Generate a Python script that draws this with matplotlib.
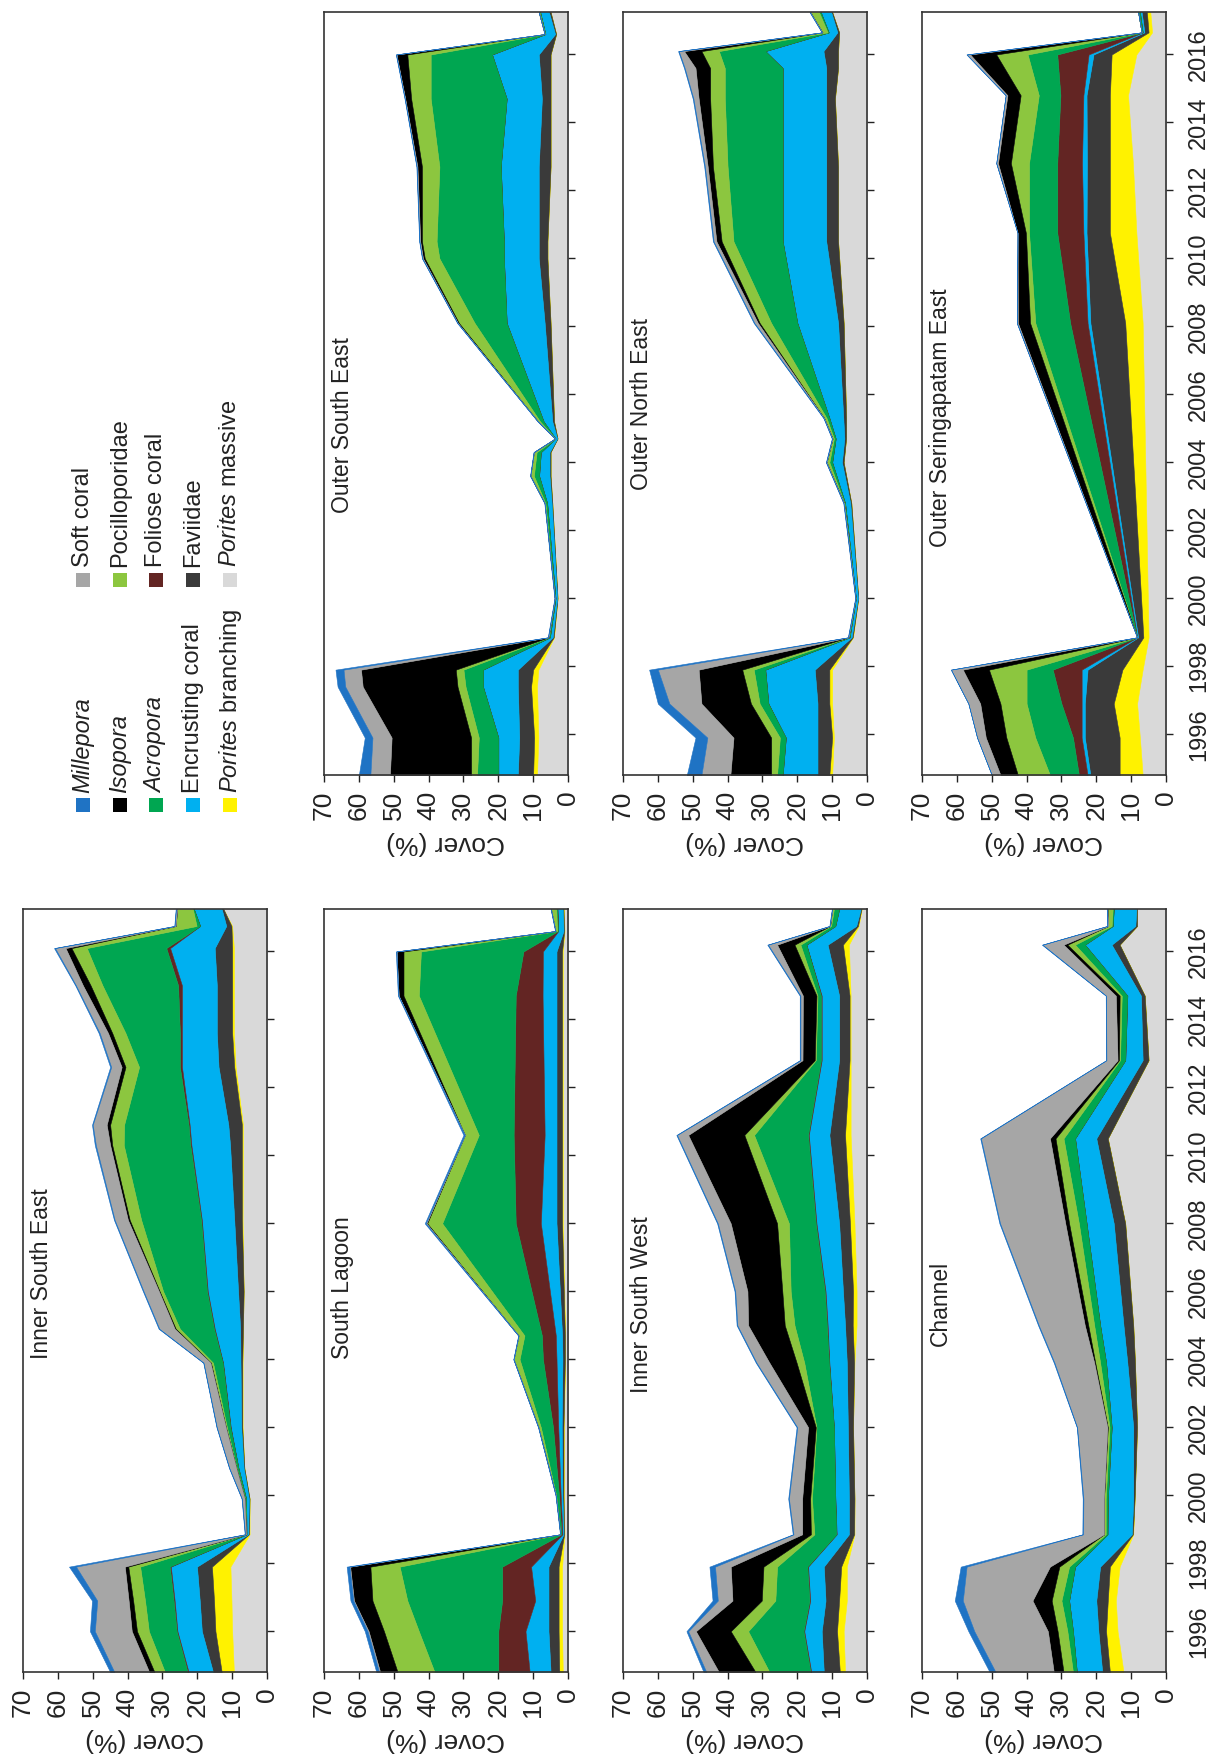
import numpy as np
import matplotlib
matplotlib.use("Agg")
import matplotlib.pyplot as plt
import matplotlib.transforms as mtransforms
from matplotlib.patches import Rectangle

plt.rcParams['font.family'] = ['Liberation Sans', 'DejaVu Sans']
plt.rcParams['mathtext.fontset'] = 'custom'
plt.rcParams['mathtext.rm'] = 'Liberation Sans'
plt.rcParams['mathtext.it'] = 'Liberation Sans:italic'

# ---------------- categories (stack order, bottom -> top) ----------------
LAYER_NAMES = ['Porites massive', 'Porites branching', 'Faviidae', 'Encrusting coral',
               'Foliose coral', 'Acropora', 'Pocilloporidae', 'Isopora', 'Soft coral', 'Millepora']
LAYER_COLORS = ['#d9d9d9', '#fff200', '#3a3a3a', '#00b0f0', '#632523',
                '#00a651', '#8cc63f', '#000000', '#a6a6a6', '#1f73c4']

YEAR_TICKS = [1996, 1998, 2000, 2002, 2004, 2006, 2008, 2010, 2012, 2014, 2016]
COVER_TICKS = [0, 10, 20, 30, 40, 50, 60, 70]

# ---------------- Inner South East ----------------
ISE_YEARS = [1994.8, 1996.0, 1996.9, 1997.9, 1998.85, 1999.9, 2000.8, 2002.0, 2003.9, 2004.9,
             2006.0, 2008.1, 2010.3, 2010.9, 2012.6, 2013.6, 2015.0, 2016.1, 2016.75, 2017.25]
ISE_PM = [9.5, 10.0, 10.2, 10.5, 5.0, 5.0, 6.5, 7.0, 7.0, 6.9, 6.7, 7.0, 6.9, 6.9, 9.0, 9.5, 9.5, 9.5, 10.0, 12.5]
ISE_PB = [3.5, 4.8, 5.0, 5.3, 0.2, 0.0, 0.0, 0.1, 0.1, 0.0, 0.0, 0.2, 0.3, 0.3, 0.4, 0.5, 0.5, 0.5, 0.2, 0.0]
ISE_FAV = [2.5, 3.9, 4.1, 4.3, 0.2, 0.2, 0.2, 0.3, 0.5, 0.8, 1.6, 2.2, 3.4, 3.9, 4.5, 4.4, 4.4, 5.0, 1.5, 0.5]
ISE_ENC = [7.0, 7.0, 7.2, 7.5, 0.5, 0.8, 1.5, 3.0, 5.0, 7.3, 8.7, 9.3, 11.1, 11.1, 10.5, 10.0, 10.0, 12.8, 7.5, 8.0]
ISE_FOL = [0.3, 0.2, 0.3, 0.3, 0.0, 0.0, 0.0, 0.1, 0.1, 0.2, 0.2, 0.2, 0.3, 0.3, 0.6, 0.6, 1.1, 1.1, 0.0, 0.0]
ISE_ACR = [6.5, 8.0, 8.2, 8.5, 0.1, 0.3, 0.5, 1.0, 2.8, 9.8, 12.6, 17.2, 19.1, 18.5, 11.7, 15.6, 21.7, 22.8, 1.0, 0.3]
ISE_POC = [3.0, 3.4, 3.4, 3.4, 0.0, 0.1, 0.1, 0.3, 0.6, 1.2, 1.0, 3.3, 3.3, 4.0, 3.9, 3.8, 3.4, 4.4, 6.0, 4.5]
ISE_ISO = [1.5, 1.5, 1.3, 1.0, 0.0, 0.0, 0.0, 0.0, 0.1, 0.3, 0.2, 0.5, 0.6, 1.0, 1.1, 1.2, 2.2, 1.7, 0.0, 0.0]
ISE_SOFT = [10.0, 10.6, 9.0, 14.0, 0.3, 0.8, 2.0, 2.6, 2.0, 4.4, 4.4, 3.8, 4.1, 4.0, 3.0, 2.4, 2.0, 3.0, 0.3, 0.3]
ISE_MIL = [1.2, 1.4, 1.5, 2.0, 0.1, 0.1, 0.1, 0.1, 0.1, 0.2, 0.2, 0.2, 0.3, 0.2, 0.3, 0.3, 0.2, 0.3, 0.1, 0.1]

# ---------------- South Lagoon ----------------
SL_YEARS = [1994.8, 1996.0, 1996.9, 1997.9, 1998.85, 2000.0, 2002.0, 2004.0, 2004.7, 2008.0,
            2010.6, 2014.7, 2016.0, 2016.6, 2017.25]
SL_PM = [1.5, 1.7, 1.7, 1.7, 1.0, 1.2, 1.2, 0.8, 0.8, 1.5, 1.5, 1.5, 1.5, 1.0, 1.2]
SL_PB = [1.0, 1.0, 1.0, 1.0, 0.1, 0.1, 0.1, 0.1, 0.1, 0.2, 0.2, 0.2, 0.2, 0.1, 0.1]
SL_FAV = [2.5, 2.9, 2.9, 2.9, 0.2, 0.3, 0.5, 0.7, 0.8, 1.6, 1.6, 1.6, 1.6, 0.2, 0.2]
SL_ENC = [6.0, 6.6, 3.8, 5.0, 0.3, 0.5, 1.0, 1.7, 1.8, 4.5, 3.4, 4.0, 3.9, 1.5, 1.5]
SL_FOL = [9.0, 7.8, 9.5, 8.3, 0.3, 0.5, 1.5, 3.9, 4.0, 7.2, 8.9, 7.7, 5.6, 0.1, 0.1]
SL_ACR = [18.3, 22.8, 27.2, 29.4, 0.3, 0.8, 3.5, 6.7, 5.0, 21.1, 10.0, 27.8, 29.4, 0.2, 0.3]
SL_POC = [10.6, 10.0, 10.0, 8.4, 0.0, 0.1, 0.7, 1.7, 1.7, 4.3, 4.0, 4.4, 5.0, 0.5, 1.5]
SL_ISO = [5.0, 4.4, 5.3, 5.8, 0.0, 0.0, 0.0, 0.0, 0.0, 0.2, 0.0, 1.4, 2.0, 0.0, 0.0]
SL_SOFT = [0.3, 0.3, 0.2, 0.2, 0.0, 0.0, 0.0, 0.0, 0.0, 0.2, 0.0, 0.0, 0.0, 0.0, 0.0]
SL_MIL = [0.8, 0.8, 0.8, 0.8, 0.1, 0.1, 0.1, 0.1, 0.1, 0.3, 0.4, 0.2, 0.2, 0.1, 0.1]

# ---------------- Inner South West ----------------
ISW_YEARS = [1994.8, 1996.0, 1996.9, 1997.9, 1998.85, 1999.9, 2002.0, 2003.9, 2005.0, 2006.0,
             2008.0, 2010.6, 2012.8, 2014.7, 2016.2, 2016.75, 2017.25]
ISW_PM = [6.3, 6.7, 5.8, 5.8, 3.6, 3.6, 4.0, 3.6, 3.0, 3.0, 3.6, 4.7, 4.7, 4.7, 5.2, 2.4, 1.5]
ISW_PB = [1.5, 1.9, 2.2, 1.6, 0.1, 0.0, 0.0, 0.1, 1.1, 1.0, 1.3, 1.6, 0.3, 0.3, 1.7, 0.2, 0.1]
ISW_FAV = [4.6, 4.4, 3.9, 5.0, 1.5, 1.6, 1.5, 2.1, 2.2, 2.9, 3.1, 4.5, 3.0, 3.0, 4.4, 0.5, 0.2]
ISW_ENC = [3.6, 5.0, 4.4, 4.5, 3.5, 3.9, 4.0, 5.0, 5.0, 5.0, 6.5, 5.9, 5.0, 5.0, 6.1, 6.0, 6.2]
ISW_FOL = [0.2, 0.2, 0.2, 0.2, 0.1, 0.0, 0.0, 0.1, 0.2, 0.2, 0.2, 0.2, 0.2, 0.2, 0.0, 0.0, 0.0]
ISW_ACR = [11.8, 15.9, 9.8, 8.7, 6.3, 6.7, 5.0, 7.1, 9.3, 9.8, 7.7, 15.5, 1.5, 1.0, 1.7, 1.2, 1.5]
ISW_POC = [4.0, 5.0, 3.9, 3.9, 1.0, 0.5, 0.2, 2.2, 2.8, 2.4, 3.4, 2.8, 0.3, 0.3, 1.7, 0.3, 0.5]
ISW_ISO = [10.5, 10.0, 8.4, 9.4, 2.5, 2.3, 2.2, 7.8, 10.5, 10.0, 13.3, 16.1, 3.5, 3.9, 5.0, 0.0, 0.0]
ISW_SOFT = [3.6, 2.2, 4.2, 4.5, 2.5, 3.8, 3.1, 3.7, 3.1, 3.5, 3.7, 3.2, 0.6, 0.7, 2.6, 0.1, 0.0]
ISW_MIL = [0.8, 0.5, 1.5, 1.6, 0.2, 0.2, 0.2, 0.2, 0.2, 0.2, 0.2, 0.2, 0.2, 0.2, 0.2, 0.1, 0.1]

# ---------------- Channel ----------------
CH_YEARS = [1994.8, 1996.0, 1996.9, 1997.9, 1998.85, 1999.9, 2002.0, 2003.9, 2005.0, 2008.0,
            2010.5, 2012.8, 2014.7, 2016.2, 2016.75, 2017.25]
CH_PM = [12.2, 13.9, 14.4, 13.3, 9.4, 9.0, 8.3, 8.9, 9.4, 11.7, 16.7, 5.0, 6.1, 13.3, 8.3, 8.3]
CH_PB = [3.9, 3.3, 2.3, 2.8, 0.1, 0.0, 0.0, 0.0, 0.0, 0.0, 0.0, 0.0, 0.0, 0.0, 0.0, 0.0]
CH_FAV = [2.2, 2.2, 3.3, 2.8, 0.3, 0.4, 1.1, 2.2, 2.8, 3.3, 3.3, 1.7, 1.1, 2.3, 0.5, 0.2]
CH_ENC = [7.3, 7.3, 7.8, 7.2, 7.0, 7.3, 6.2, 6.1, 6.7, 7.8, 6.1, 5.0, 3.9, 7.7, 6.5, 6.5]
CH_FOL = [0.0, 0.0, 0.0, 0.0, 0.0, 0.0, 0.0, 0.0, 0.0, 0.0, 0.0, 0.0, 0.0, 0.0, 0.0, 0.0]
CH_ACR = [1.1, 1.6, 2.2, 1.7, 0.5, 0.6, 0.6, 1.7, 1.7, 2.2, 3.3, 1.5, 1.6, 2.8, 0.3, 0.3]
CH_POC = [2.7, 2.8, 2.8, 2.8, 0.5, 0.5, 0.5, 1.4, 1.7, 2.8, 2.3, 0.3, 0.6, 2.2, 1.0, 1.5]
CH_ISO = [2.8, 2.8, 5.5, 2.7, 0.0, 0.0, 0.1, 0.3, 1.0, 1.1, 1.6, 0.4, 1.1, 1.1, 0.0, 0.0]
CH_SOFT = [16.7, 21.1, 20.0, 23.9, 6.0, 5.9, 8.7, 11.4, 13.2, 18.7, 19.8, 3.2, 2.8, 6.0, 0.2, 0.1]
CH_MIL = [1.7, 1.7, 2.3, 1.7, 0.2, 0.2, 0.1, 0.2, 0.2, 0.2, 0.2, 0.1, 0.1, 0.2, 0.1, 0.1]

# ---------------- Outer South East ----------------
OSE_YEARS = [1994.8, 1995.9, 1997.4, 1997.9, 1998.85, 2000.0, 2002.8, 2003.6, 2004.3, 2004.7,
             2005.2, 2008.1, 2010.0, 2010.5, 2012.7, 2014.7, 2016.0, 2016.6, 2017.25]
OSE_PM = [8.9, 8.5, 8.9, 8.5, 4.0, 3.0, 4.5, 5.0, 5.0, 3.0, 4.0, 5.0, 5.9, 5.9, 5.0, 5.0, 5.0, 3.4, 5.0]
OSE_PB = [1.1, 1.2, 1.7, 1.5, 0.1, 0.0, 0.0, 0.0, 0.0, 0.0, 0.0, 0.0, 0.0, 0.0, 0.0, 0.0, 0.0, 0.0, 0.0]
OSE_FAV = [4.4, 4.3, 3.8, 4.4, 0.3, 0.1, 0.2, 0.3, 0.3, 0.1, 0.5, 1.7, 2.5, 2.5, 3.4, 2.5, 3.4, 0.3, 0.5]
OSE_ENC = [5.6, 6.0, 10.0, 10.0, 0.8, 0.5, 1.3, 3.0, 2.5, 0.5, 2.5, 10.9, 10.0, 10.0, 10.9, 10.1, 13.4, 2.8, 2.5]
OSE_FOL = [0.0, 0.0, 0.0, 0.0, 0.0, 0.0, 0.0, 0.0, 0.0, 0.0, 0.0, 0.0, 0.0, 0.0, 0.0, 0.0, 0.0, 0.0, 0.0]
OSE_ACR = [6.1, 5.6, 5.0, 5.6, 0.3, 0.2, 0.5, 1.5, 1.2, 0.0, 1.0, 9.2, 18.5, 19.3, 17.6, 21.8, 17.6, 0.1, 0.2]
OSE_POC = [1.7, 2.2, 2.3, 2.2, 0.1, 0.0, 0.2, 1.0, 0.8, 0.1, 0.6, 4.5, 4.2, 4.2, 5.0, 5.6, 6.7, 0.1, 0.2]
OSE_ISO = [23.3, 22.8, 27.2, 27.2, 0.0, 0.0, 0.0, 0.0, 0.0, 0.0, 0.0, 0.3, 0.5, 0.5, 1.3, 1.7, 3.1, 0.0, 0.0]
OSE_SOFT = [5.6, 5.5, 5.0, 5.0, 0.1, 0.0, 0.0, 0.0, 0.0, 0.0, 0.0, 0.1, 0.2, 0.2, 0.2, 0.1, 0.1, 0.0, 0.0]
OSE_MIL = [3.3, 2.2, 2.2, 2.3, 0.1, 0.1, 0.1, 0.1, 0.1, 0.1, 0.1, 0.1, 0.1, 0.1, 0.1, 0.1, 0.1, 0.0, 0.0]

# ---------------- Outer North East ----------------
ONE_YEARS = [1994.8, 1995.9, 1996.9, 1997.9, 1998.85, 2000.0, 2002.8, 2004.0, 2004.7, 2005.3,
             2008.1, 2010.5, 2012.7, 2014.7, 2015.6, 2016.1, 2016.65, 2017.25]
ONE_PM = [10.0, 9.5, 10.0, 10.0, 4.0, 2.5, 4.5, 6.7, 6.0, 6.0, 6.7, 8.3, 8.3, 9.2, 8.3, 8.3, 8.0, 10.0]
ONE_PB = [0.8, 0.5, 0.8, 0.8, 0.1, 0.0, 0.0, 0.0, 0.0, 0.0, 0.0, 0.0, 0.0, 0.0, 0.0, 0.0, 0.0, 0.0]
ONE_FAV = [3.4, 4.2, 3.4, 4.2, 0.3, 0.1, 0.3, 0.5, 0.5, 0.8, 1.6, 3.4, 3.4, 2.5, 3.4, 4.2, 0.5, 0.3]
ONE_ENC = [10.0, 9.1, 14.1, 14.2, 0.6, 0.6, 1.5, 2.8, 2.5, 4.0, 11.7, 12.5, 12.5, 12.5, 12.5, 16.7, 2.5, 3.0]
ONE_FOL = [0.0, 0.0, 0.0, 0.0, 0.0, 0.0, 0.0, 0.0, 0.0, 0.0, 0.0, 0.0, 0.0, 0.0, 0.0, 0.0, 0.0, 0.0]
ONE_ACR = [1.6, 1.7, 2.5, 3.3, 0.2, 0.1, 0.2, 0.8, 0.5, 0.8, 7.5, 14.1, 15.8, 16.6, 16.6, 13.3, 0.3, 0.5]
ONE_POC = [1.7, 2.5, 2.5, 3.3, 0.1, 0.0, 0.1, 0.8, 0.4, 0.7, 3.3, 3.4, 4.2, 4.2, 4.2, 5.0, 1.5, 2.5]
ONE_ISO = [11.7, 10.8, 14.2, 12.5, 0.0, 0.0, 0.0, 0.0, 0.0, 0.0, 0.5, 1.5, 1.5, 3.3, 4.2, 5.0, 0.0, 0.0]
ONE_SOFT = [8.3, 7.5, 9.2, 11.7, 0.1, 0.0, 0.1, 0.1, 0.1, 0.1, 1.0, 0.8, 0.8, 1.5, 3.1, 1.5, 0.1, 0.1]
ONE_MIL = [4.2, 3.4, 3.3, 2.5, 0.1, 0.1, 0.1, 0.1, 0.1, 0.1, 0.2, 0.2, 0.2, 0.2, 0.2, 0.2, 0.1, 0.1]

# ---------------- Outer Seringapatam East ----------------
OSR_YEARS = [1994.8, 1995.9, 1996.9, 1997.9, 1998.85, 2008.1, 2010.75, 2012.8, 2014.8, 2016.0, 2016.65, 2017.25]
OSR_PM = [6.7, 7.5, 8.3, 6.7, 5.0, 6.7, 8.5, 9.5, 10.9, 8.5, 4.0, 4.5]
OSR_PB = [6.6, 5.8, 6.7, 5.8, 1.5, 5.0, 7.6, 6.6, 5.2, 7.1, 1.0, 1.0]
OSR_FAV = [8.4, 10.0, 8.3, 10.0, 1.5, 10.0, 6.7, 6.6, 6.7, 5.2, 1.2, 1.5]
OSR_ENC = [0.8, 0.9, 0.9, 1.7, 0.3, 0.8, 0.9, 1.4, 0.9, 1.4, 0.5, 0.5]
OSR_FOL = [2.5, 2.5, 5.8, 8.3, 0.0, 5.0, 7.5, 7.1, 6.6, 9.0, 0.0, 0.0]
OSR_ACR = [8.3, 10.8, 10.0, 7.5, 0.0, 10.0, 8.1, 8.1, 6.2, 8.5, 0.3, 0.5]
OSR_POC = [9.2, 8.3, 7.5, 10.8, 0.0, 1.5, 0.9, 5.2, 5.2, 9.0, 0.0, 0.0]
OSR_ISO = [5.0, 5.9, 5.8, 7.5, 0.0, 3.5, 2.4, 3.7, 3.8, 7.5, 0.0, 0.0]
OSR_SOFT = [2.5, 2.5, 3.4, 3.4, 0.0, 0.3, 0.0, 0.5, 0.5, 1.0, 0.0, 0.0]
OSR_MIL = [0.0, 0.0, 0.0, 0.0, 0.0, 0.0, 0.0, 0.0, 0.0, 0.0, 0.0, 0.0]

PANELS = [
    # title, years, layers, column, row, title start year
    ('Outer South East', OSE_YEARS,
     [OSE_PM, OSE_PB, OSE_FAV, OSE_ENC, OSE_FOL, OSE_ACR, OSE_POC, OSE_ISO, OSE_SOFT, OSE_MIL], 1, 0, 2002.5),
    ('Outer North East', ONE_YEARS,
     [ONE_PM, ONE_PB, ONE_FAV, ONE_ENC, ONE_FOL, ONE_ACR, ONE_POC, ONE_ISO, ONE_SOFT, ONE_MIL], 2, 0, 2003.2),
    ('Outer Seringapatam East', OSR_YEARS,
     [OSR_PM, OSR_PB, OSR_FAV, OSR_ENC, OSR_FOL, OSR_ACR, OSR_POC, OSR_ISO, OSR_SOFT, OSR_MIL], 3, 0, 2001.5),
    ('Inner South East', ISE_YEARS,
     [ISE_PM, ISE_PB, ISE_FAV, ISE_ENC, ISE_FOL, ISE_ACR, ISE_POC, ISE_ISO, ISE_SOFT, ISE_MIL], 0, 1, 2004.0),
    ('South Lagoon', SL_YEARS,
     [SL_PM, SL_PB, SL_FAV, SL_ENC, SL_FOL, SL_ACR, SL_POC, SL_ISO, SL_SOFT, SL_MIL], 1, 1, 2004.0),
    ('Inner South West', ISW_YEARS,
     [ISW_PM, ISW_PB, ISW_FAV, ISW_ENC, ISW_FOL, ISW_ACR, ISW_POC, ISW_ISO, ISW_SOFT, ISW_MIL], 2, 1, 2003.0),
    ('Channel', CH_YEARS,
     [CH_PM, CH_PB, CH_FAV, CH_ENC, CH_FOL, CH_ACR, CH_POC, CH_ISO, CH_SOFT, CH_MIL], 3, 1, 2004.4),
]

# ---------------- layout (pixels) ----------------
W, H = 1210, 1755
fig = plt.figure(figsize=(W / 100, H / 100), dpi=100)
COL_X = [23, 324, 623, 922]
ROW_Y = [12, 909]
PW, PH = 244, 763


def rect(x0, y0, w, h):
    return [x0 / W, 1 - (y0 + h) / H, w / W, h / H]


for title, years, layers, col, row, ty in PANELS:
    ax = fig.add_axes(rect(COL_X[col], ROW_Y[row], PW, PH))
    y = np.array(years, dtype=float)
    base = np.zeros_like(y)
    for vals, c in zip(layers, LAYER_COLORS):
        top = base + np.array(vals, dtype=float)
        ax.fill_betweenx(y, base, top, facecolor=c, edgecolor=c, linewidth=0.4)
        base = top
    ax.set_xlim(70, 0)
    ax.set_ylim(1994.8, 2017.25)
    ax.set_xticks(COVER_TICKS)
    ax.set_yticks(YEAR_TICKS)
    ax.yaxis.tick_right()
    ax.tick_params(axis='x', direction='out', length=5, width=1.0, labelsize=19,
                   labelrotation=90, pad=6, colors='#222222')
    ax.tick_params(axis='y', direction='out', length=5, width=1.0, labelsize=17,
                   labelrotation=90, pad=11, left=False, right=True,
                   labelleft=False, labelright=(col == 3), colors='#222222')
    for lab in ax.get_yticklabels():
        lab.set_va('center')
    ax.set_xlabel('Cover (%)', rotation=180, fontsize=19, labelpad=8, color='#222222')
    for s in ax.spines.values():
        s.set_linewidth(1.2)
        s.set_color('#333333')
    trans = mtransforms.blended_transform_factory(ax.transAxes, ax.transData)
    ax.text(0.075, ty, title, rotation=90, ha='center', va='bottom', fontsize=16.5,
            transform=trans, color='#222222')

# ---------------- legend ----------------
LEG_X = [83, 120, 156, 193, 230]
LEG_TOP_LABELS = ['Soft coral', 'Pocilloporidae', 'Foliose coral', 'Faviidae', r'$\mathit{Porites}$ massive']
LEG_TOP_COLORS = ['#a6a6a6', '#8cc63f', '#632523', '#3a3a3a', '#d9d9d9']
LEG_BOT_LABELS = ['Millepora', 'Isopora', 'Acropora', 'Encrusting coral', r'$\mathit{Porites}$ branching']
LEG_BOT_COLORS = ['#1f73c4', '#000000', '#00a651', '#00b0f0', '#fff200']
LEG_BOT_ITALIC = [True, True, True, False, False]

for labels, colors, sq_y, txt_y, italics in [
        (LEG_TOP_LABELS, LEG_TOP_COLORS, 580, 567, [False] * 5),
        (LEG_BOT_LABELS, LEG_BOT_COLORS, 805, 793, LEG_BOT_ITALIC)]:
    for x, lab, c, it in zip(LEG_X, labels, colors, italics):
        fig.add_artist(Rectangle(((x - 7) / W, 1 - (sq_y + 7) / H), 14 / W, 14 / H,
                                 transform=fig.transFigure, facecolor=c, edgecolor='none'))
        fig.text(x / W, 1 - txt_y / H, lab, rotation=90, ha='center', va='bottom',
                 fontsize=17, fontstyle='italic' if it else 'normal', color='#222222')

fig.savefig('out.png', dpi=100)
